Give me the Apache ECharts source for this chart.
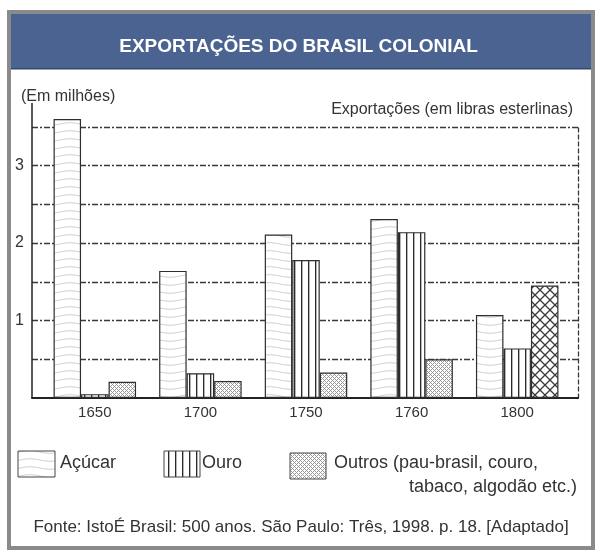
<!DOCTYPE html>
<html><head><meta charset="utf-8">
<script src="https://cdn.jsdelivr.net/npm/echarts@6/dist/echarts.min.js"></script>
<style>html,body{margin:0;padding:0;background:#fff}#c{width:597px;height:550px}</style>
</head><body><div id="c"></div>
<script>
// ---- data ----
const years = ['1650', '1700', '1750', '1760', '1800'];
const acucar = [3.6, 1.64, 2.11, 2.31, 1.07];
const ouro = [0.05, 0.32, 1.78, 2.14, 0.64];
const outros = [0.21, 0.22, 0.33, 0.50, 1.45];
const outrosStyle = ['fine', 'fine', 'fine', 'fine', 'cross'];
const yLabels = [1, 2, 3];
const titleText = 'EXPORTAÇÕES DO BRASIL COLONIAL';
const unitText = '(Em milhões)';
const subText = 'Exportações (em libras esterlinas)';
const sourceText = 'Fonte: IstoÉ Brasil: 500 anos. São Paulo: Três, 1998. p. 18. [Adaptado]';

// ---- patterns ----
function mk(w, h, draw) { const c = document.createElement('canvas'); c.width = w; c.height = h; const g = c.getContext('2d'); g.fillStyle = '#fff'; g.fillRect(0, 0, w, h); draw(g); return { image: c, repeat: 'repeat' }; }
const patAcucar = mk(40, 8, g => { g.strokeStyle = '#d2d2d2'; g.lineWidth = 1; g.beginPath(); for (let x = 0; x <= 40; x++) { const y = 4 + 1.3 * Math.sin(2 * Math.PI * x / 40); x ? g.lineTo(x, y) : g.moveTo(x, y); } g.stroke(); });
const patOuro = mk(7, 4, g => { g.fillStyle = '#2a2a2a'; g.fillRect(0, 0, 1, 4); g.fillStyle = 'rgba(40,40,40,0.35)'; g.fillRect(1, 0, 1, 4); });
const patFine = mk(4, 4, g => { g.fillStyle = '#9a9a9a'; for (let x = 0; x < 4; x++) for (let y = 0; y < 4; y++) if ((x + y) % 4 === 0 || (x - y + 4) % 4 === 0) g.fillRect(x, y, 1, 1); });
const patCross = mk(10, 10, g => { g.strokeStyle = '#3a3a3a'; g.lineWidth = 1.3; g.beginPath(); g.moveTo(0, 0); g.lineTo(10, 10); g.moveTo(10, 0); g.lineTo(0, 10); g.stroke(); });
const patMap = { fine: patFine, cross: patCross };

const FONT = '"Liberation Sans", Arial, Helvetica, sans-serif';
const TXT = '#333';
const barBorder = { borderColor: '#2e2e2e', borderWidth: 1.2 };

const chart = echarts.init(document.getElementById('c'), null, { renderer: 'canvas' });

function txt(x, y, s, size, align, color, weight) {
  return { type: 'text', x, y, z: 20, style: { text: s, font: (weight || 'normal') + ' ' + size + 'px ' + FONT, fill: color || TXT, textAlign: align || 'left', align: align || 'left', textVerticalAlign: 'middle', verticalAlign: 'middle' } };
}
function box(x, y, w, h, fill) {
  return { type: 'rect', shape: { x, y, width: w, height: h }, z: 20, style: { fill, stroke: '#444', lineWidth: 1 } };
}

const option = {
  animation: false,
  backgroundColor: '#fff',
  title: { text: titleText, left: 'center', top: 32, z: 30, textStyle: { color: '#fff', fontSize: 19, fontWeight: 'bold', fontFamily: FONT } },
  grid: [
    { left: 32, right: 19, top: 126.75, bottom: 152, containLabel: false },
    { left: 42, right: 27, top: 103.5, bottom: 152, containLabel: false }
  ],
  xAxis: [
    { type: 'category', gridIndex: 0, data: years, axisLine: { lineStyle: { color: '#222', width: 2 } }, axisTick: { show: false }, axisLabel: { show: false }, splitLine: { show: false } },
    { type: 'category', gridIndex: 1, data: years, axisLine: { show: false }, axisTick: { show: false }, axisLabel: { color: TXT, fontSize: 15, fontFamily: FONT, margin: 7 } }
  ],
  yAxis: [
    { type: 'value', gridIndex: 0, min: 0, max: 3.5, interval: 0.5, axisLine: { show: false }, axisTick: { show: false }, axisLabel: { show: false },
      splitLine: { show: true, showMinLine: false, showMaxLine: true, lineStyle: { color: '#3a3a3a', width: 1.3, type: [6, 2, 2, 2] } } },
    { type: 'value', gridIndex: 0, position: 'right', min: 0, max: 3.5, interval: 0.5, axisLine: { show: true, lineStyle: { color: '#3a3a3a', width: 1.3, type: [4, 3] } }, axisTick: { show: false }, axisLabel: { show: false }, splitLine: { show: false } },
    { type: 'value', gridIndex: 1, min: 0, max: 3.8, interval: 1, offset: 10, axisLine: { show: true, lineStyle: { color: '#222', width: 1.5 } }, axisTick: { show: false }, splitLine: { show: false },
      axisLabel: { color: TXT, fontSize: 16, fontFamily: FONT, margin: 8, formatter: v => (yLabels.indexOf(v) >= 0 ? String(v) : '') } }
  ],
  series: [
    { name: 'Açúcar', type: 'bar', xAxisIndex: 1, yAxisIndex: 2, barWidth: 27.5, barGap: '0%', data: acucar, itemStyle: Object.assign({ color: patAcucar }, barBorder) },
    { name: 'Ouro', type: 'bar', xAxisIndex: 1, yAxisIndex: 2, barWidth: 27.5, barGap: '0%', data: ouro, itemStyle: Object.assign({ color: patOuro }, barBorder) },
    { name: 'Outros', type: 'bar', xAxisIndex: 1, yAxisIndex: 2, barWidth: 27.5, barGap: '0%',
      data: outros.map((v, i) => ({ value: v, itemStyle: { color: patMap[outrosStyle[i]] } })), itemStyle: Object.assign({ color: patFine }, barBorder) }
  ],
  graphic: [
    { type: 'rect', shape: { x: 9, y: 12, width: 584, height: 536 }, z: 1, style: { fill: 'none', stroke: '#8a8a8a', lineWidth: 4 } },
    { type: 'rect', shape: { x: 11, y: 14, width: 580, height: 55 }, z: 1, style: { fill: '#4b6391' } },
    { type: 'rect', shape: { x: 11, y: 68, width: 580, height: 1.5 }, z: 1, style: { fill: '#34466b' } },
    txt(21, 97, unitText, 16),
    txt(573, 110, subText, 16, 'right'),
    box(18, 451, 37, 26, patAcucar),
    txt(60, 463, 'Açúcar', 18),
    box(164, 451, 36, 26, patOuro),
    txt(202, 463, 'Ouro', 18),
    box(290, 453, 36, 26, patFine),
    txt(334, 463, 'Outros (pau-brasil, couro,', 18),
    txt(577, 487, 'tabaco, algodão etc.)', 18, 'right'),
    txt(301, 527, sourceText, 17, 'center')
  ]
};
chart.setOption(option);
</script>
</body></html>
